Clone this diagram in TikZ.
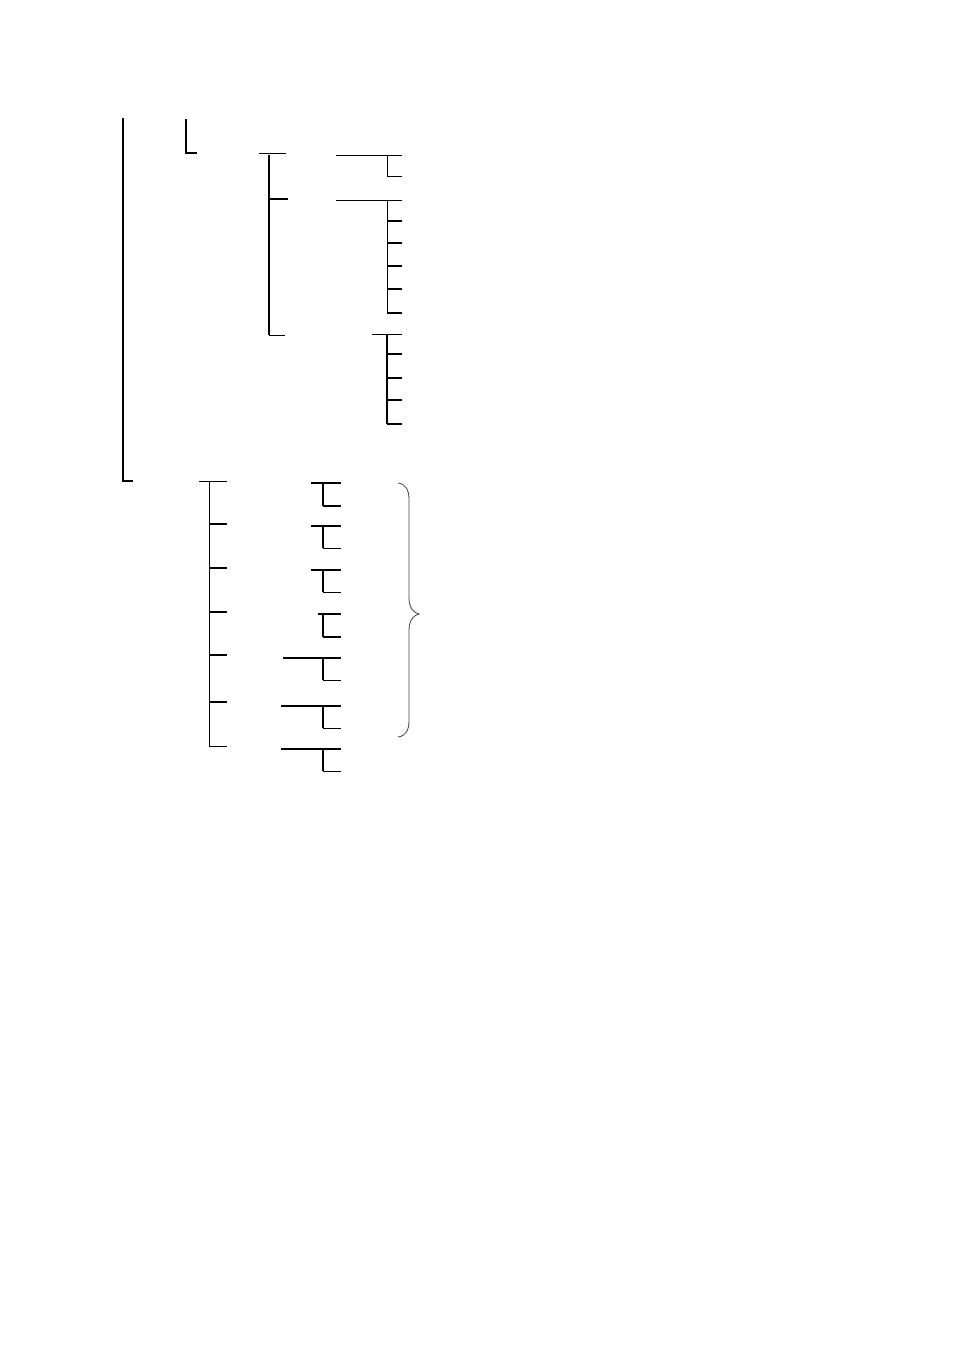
\documentclass[tikz,border=0pt]{standalone}
\begin{document}
\begin{tikzpicture}[x=1pt,y=-1pt,
  thk/.style={line width=1.8pt},
  thn/.style={line width=0.9pt},
  brc/.style={line width=0.8pt, draw=black!75}]
\useasboundingbox (0,0) rectangle (954,1350);
% main spine
\draw[thk] (123,118) -- (123,481) -- (133,481);
\draw[thk] (186,119) -- (186,153) -- (197,153);
% second level
\draw[thn] (259,153) -- (286,153);
\draw[thk] (269,155) -- (269,335);
\draw[thk] (269,199) -- (288,199);
\draw[thn] (269,335) -- (285,335);
% group A
\draw[thn] (336,155) -- (402,155);
\draw[thn] (387,155) -- (387,176) -- (402,176);
% group B
\draw[thn] (336,200) -- (402,200);
\draw[thn] (387,200) -- (387,313);
\foreach \y in {221,243,266,289,313} \draw[thk] (387,\y) -- (402,\y);
% group C
\draw[thn] (372,334) -- (402,334);
\draw[thk] (387,334) -- (387,424);
\foreach \y in {354,378,400,424} \draw[thk] (387,\y) -- (402,\y);
% lower spine
\draw[thn] (199,481) -- (227,481);
\draw[thn] (209,481) -- (209,746);
\foreach \y in {524,568,612,655,702} \draw[thk] (209,\y) -- (227,\y);
\draw[thn] (209,746) -- (227,746);
% right brackets
\foreach \xs/\yt/\yb/\bs in {311/483/506/thk, 311/526/548/thn, 311/570/592/thn, 318/614/637/thk, 283/658/680/thn, 281/706/728/thn, 281/749/771/thn} {
  \draw[thk] (\xs,\yt) -- (341,\yt);
  \draw[line width=1.3pt] (323,\yt) -- (323,\yb);
  \draw[\bs] (323,\yb) -- (341,\yb);
}
% brace
\draw[brc] (398,483) .. controls (406,484) and (409,490) .. (409,500) -- (409,598)
  .. controls (409,608) and (414,613) .. (419,614)
  .. controls (414,615) and (409,620) .. (409,630) -- (409,720)
  .. controls (409,730) and (406,736) .. (398,737);
\end{tikzpicture}
\end{document}
